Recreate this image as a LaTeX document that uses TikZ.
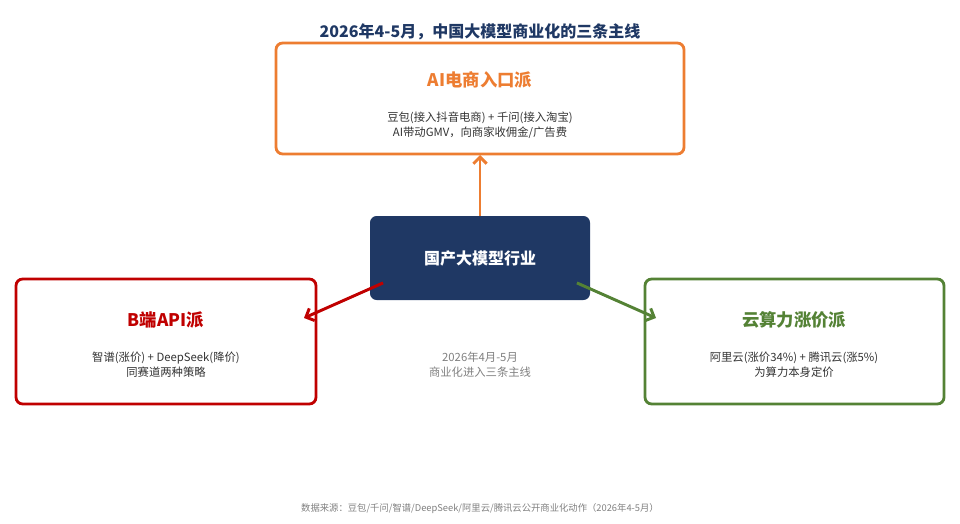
\documentclass[tikz,border=0pt]{standalone}
\usepackage{fontspec}
\setmainfont{Noto Sans CJK SC}
\usetikzlibrary{positioning,arrows.meta}
\definecolor{navy}{HTML}{1F3864}
\definecolor{orng}{HTML}{ED7D31}
\definecolor{rd}{HTML}{C00000}
\definecolor{grn}{HTML}{548235}
\definecolor{txt}{HTML}{333333}
\tikzset{
  card/.style = {draw = #1, line width = 2.1pt, rounded corners = 5pt, fill = white},
  head/.style = {text = #1, font = \fontsize{13}{15}\selectfont\bfseries},
  body/.style = {text = txt, font = \fontsize{8.5}{11}\selectfont, align = center},
  link/.style = {draw = #1, line width = 2.2pt, -{Straight Barb[length = 5pt, width = 10pt]}}
}
\begin{document}
\begin{tikzpicture}[x = 0.75pt, y = -0.75pt]
\useasboundingbox (0,0) rectangle (960,524);
\node[text = navy, font = \fontsize{12}{14}\selectfont\bfseries] (title) at (480,32) {2026年4-5月，中国大模型商业化的三条主线};
% cards
\draw[card = orng] (276,43) rectangle (684,154);
\node[head = orng] (ahead) at (480,80) {AI电商入口派};
\node[body] (abody) at (480,125) {豆包(接入抖音电商) + 千问(接入淘宝)\\AI带动GMV，向商家收佣金/广告费};
\draw[card = rd] (16,279) rectangle (316,404);
\node[head = rd] (bhead) at (166,320) {B端API派};
\node[body] (bbody) at (166,365) {智谱(涨价) + DeepSeek(降价)\\同赛道两种策略};
\draw[card = grn] (645,279) rectangle (944,404);
\node[head = grn] (chead) at (794,320) {云算力涨价派};
\node[body] (cbody) at (794,365) {阿里云(涨价34\%) + 腾讯云(涨5\%)\\为算力本身定价};
% center
\node[fill = navy, rounded corners = 5pt, minimum width = 165pt, minimum height = 63pt, text = white, font = \fontsize{12}{14}\selectfont\bfseries] (core) at (480,258) {国产大模型行业};
\coordinate (atip) at (480,155);
\coordinate (btip) at (304,318);
\coordinate (ctip) at (656,318);
\draw[link = orng] (core.north) -- (atip);
\draw[link = rd] ([xshift = 10pt, yshift = 13pt]core.south west) -- (btip);
\draw[link = grn] ([xshift = -10pt, yshift = 13pt]core.south east) -- (ctip);
\node[text = gray, font = \fontsize{8.5}{11}\selectfont, align = center] (note) at (480,365) {2026年4月-5月\\商业化进入三条主线};
\node[text = gray, font = \fontsize{7}{8}\selectfont] (src) at (480,509) {数据来源：豆包/千问/智谱/DeepSeek/阿里云/腾讯云公开商业化动作（2026年4-5月）};
\end{tikzpicture}
\end{document}
